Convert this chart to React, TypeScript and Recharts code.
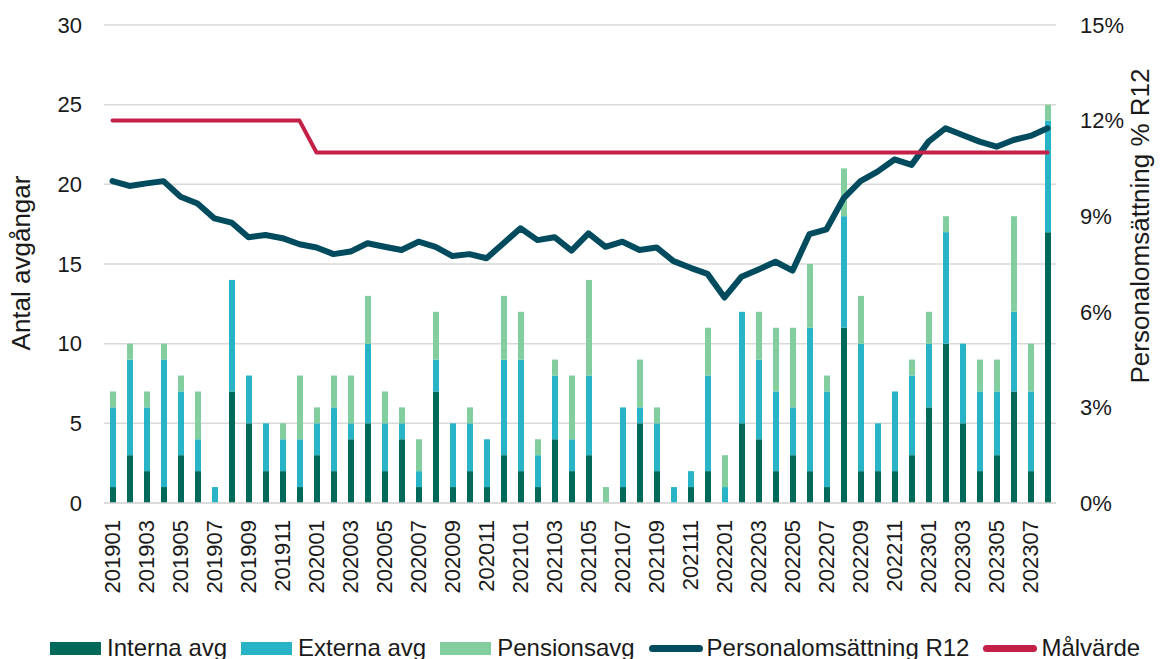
import React from "react";
import {
  ComposedChart,
  Bar,
  Line,
  XAxis,
  YAxis,
  CartesianGrid,
  Legend,
} from "recharts";

const months = [
  "201901", "201902", "201903", "201904", "201905", "201906", "201907", "201908", "201909", "201910", "201911", "201912",
  "202001", "202002", "202003", "202004", "202005", "202006", "202007", "202008", "202009", "202010", "202011", "202012",
  "202101", "202102", "202103", "202104", "202105", "202106", "202107", "202108", "202109", "202110", "202111", "202112",
  "202201", "202202", "202203", "202204", "202205", "202206", "202207", "202208", "202209", "202210", "202211", "202212",
  "202301", "202302", "202303", "202304", "202305", "202306", "202307", "202308",
];

const interna = [
  1, 3, 2, 1, 3, 2, 0, 7, 5, 2, 2, 1,
  3, 2, 4, 5, 2, 4, 1, 7, 1, 2, 1, 3,
  2, 1, 4, 2, 3, 0, 1, 5, 2, 0, 1, 2,
  0, 5, 4, 2, 3, 2, 1, 11, 2, 2, 2, 3,
  6, 10, 5, 2, 3, 7, 2, 17,
];

const externa = [
  5, 6, 4, 8, 4, 2, 1, 7, 3, 3, 2, 3,
  2, 4, 1, 5, 3, 1, 1, 2, 4, 3, 3, 6,
  7, 2, 4, 2, 5, 0, 5, 1, 3, 1, 1, 6,
  1, 7, 5, 5, 3, 9, 6, 7, 8, 3, 5, 5,
  4, 7, 5, 5, 4, 5, 5, 7,
];

const pension = [
  1, 1, 1, 1, 1, 3, 0, 0, 0, 0, 1, 4,
  1, 2, 3, 3, 2, 1, 2, 3, 0, 1, 0, 4,
  3, 1, 1, 4, 6, 1, 0, 3, 1, 0, 0, 3,
  2, 0, 3, 4, 5, 4, 1, 3, 3, 0, 0, 1,
  2, 1, 0, 2, 2, 6, 3, 1,
];

// Personalomsättning R12, procent
const r12 = [
  10.1, 9.95, 10.03, 10.1, 9.61, 9.4, 8.93, 8.8, 8.34, 8.41, 8.31, 8.12,
  8.02, 7.81, 7.89, 8.15, 8.04, 7.94, 8.2, 8.04, 7.75, 7.81, 7.68, 8.15,
  8.62, 8.25, 8.34, 7.92, 8.46, 8.04, 8.2, 7.94, 8.02, 7.59, 7.38, 7.19,
  6.45, 7.1, 7.33, 7.57, 7.29, 8.44, 8.59, 9.56, 10.1, 10.4, 10.78, 10.61,
  11.34, 11.76, 11.55, 11.34, 11.18, 11.39, 11.52, 11.76,
];

const malvarde = [
  12, 12, 12, 12, 12, 12, 12, 12, 12, 12, 12, 12,
  11, 11, 11, 11, 11, 11, 11, 11, 11, 11, 11, 11,
  11, 11, 11, 11, 11, 11, 11, 11, 11, 11, 11, 11,
  11, 11, 11, 11, 11, 11, 11, 11, 11, 11, 11, 11,
  11, 11, 11, 11, 11, 11, 11, 11,
];

const leftTicks = [0, 5, 10, 15, 20, 25, 30];
const rightTicks = [0, 3, 6, 9, 12, 15];

const data = months.map((m, i) => ({
  month: m,
  interna: interna[i],
  externa: externa[i],
  pension: pension[i],
  r12: r12[i],
  malvarde: malvarde[i],
}));

const FONT = '"Liberation Sans", Arial, sans-serif';
const TEXT = "#1a1a1a";

const C_INT = "#00695A";
const C_EXT = "#29B3C7";
const C_PEN = "#82CE9E";
const C_R12 = "#004B5E";
const C_MAL = "#C32148";

const XTick = ({ x, y, payload }: any) => (
  <text
    x={x}
    y={y}
    transform={`rotate(-90 ${x} ${y})`}
    textAnchor="end"
    dy="0.35em"
    fontSize={22}
    fontFamily={FONT}
    fill={TEXT}
  >
    {payload.value}
  </text>
);

const legendItems = [
  { name: "Interna avg", color: C_INT, kind: "bar" },
  { name: "Externa avg", color: C_EXT, kind: "bar" },
  { name: "Pensionsavg", color: C_PEN, kind: "bar" },
  { name: "Personalomsättning R12", color: C_R12, kind: "line" },
  { name: "Målvärde", color: C_MAL, kind: "line" },
];

const CustomLegend = () => (
  <div
    style={{
      display: "flex",
      alignItems: "center",
      height: 36,
      paddingLeft: 50,
      paddingTop: 14,
      boxSizing: "border-box",
      fontFamily: FONT,
      fontSize: 24,
      color: TEXT,
      lineHeight: "22px",
      whiteSpace: "nowrap",
    }}
  >
    {legendItems.map((it) => (
      <div key={it.name} style={{ display: "flex", alignItems: "center", marginRight: 14 }}>
        {it.kind === "bar" ? (
          <div style={{ width: 51, height: 13, background: it.color, marginRight: 6 }} />
        ) : (
          <div
            style={{ width: 54, height: 7, borderRadius: 4, background: it.color, marginRight: 4 }}
          />
        )}
        <span>{it.name}</span>
      </div>
    ))}
  </div>
);

export default function App() {
  return (
    <div style={{ position: "absolute", left: 0, top: 0, width: 1162, height: 659, background: "#fff" }}>
      <ComposedChart
        width={1162}
        height={659}
        data={data}
        margin={{ top: 25, right: 0, left: 0, bottom: 0 }}
        barCategoryGap={0}
      >
        <CartesianGrid yAxisId="left" vertical={false} stroke="#d9d9d9" strokeWidth={1.5} />
        <XAxis
          dataKey="month"
          interval={1}
          height={120}
          tick={<XTick />}
          tickLine={false}
          tickSize={15}
          axisLine={{ stroke: "#d9d9d9", strokeWidth: 1.5 }}
        />
        <YAxis
          yAxisId="left"
          domain={[0, 30]}
          ticks={leftTicks}
          width={104}
          axisLine={false}
          tickLine={false}
          tickSize={20}
          tick={{ fontSize: 22, fontFamily: FONT, fill: TEXT }}
          label={{
            content: () => (
              <text
                x={21}
                y={263}
                transform="rotate(-90 21 263)"
                textAnchor="middle"
                dy="0.35em"
                fontSize={26}
                fontFamily={FONT}
                fill={TEXT}
              >
                Antal avgångar
              </text>
            ),
          }}
        />
        <YAxis
          yAxisId="right"
          orientation="right"
          domain={[0, 15]}
          ticks={rightTicks}
          width={106}
          axisLine={false}
          tickLine={false}
          tickSize={22}
          tickFormatter={(v: number) => `${v}%`}
          tick={{ fontSize: 22, fontFamily: FONT, fill: TEXT }}
          label={{
            content: () => (
              <text
                x={1140}
                y={226}
                transform="rotate(-90 1140 226)"
                textAnchor="middle"
                dy="0.35em"
                fontSize={26}
                fontFamily={FONT}
                fill={TEXT}
              >
                Personalomsättning % R12
              </text>
            ),
          }}
        />
        <Legend verticalAlign="bottom" content={<CustomLegend />} />
        <Bar yAxisId="left" dataKey="interna" name="Interna avg" stackId="a" fill={C_INT} barSize={6} isAnimationActive={false} />
        <Bar yAxisId="left" dataKey="externa" name="Externa avg" stackId="a" fill={C_EXT} barSize={6} isAnimationActive={false} />
        <Bar yAxisId="left" dataKey="pension" name="Pensionsavg" stackId="a" fill={C_PEN} barSize={6} isAnimationActive={false} />
        <Line
          yAxisId="right"
          type="linear"
          dataKey="r12"
          name="Personalomsättning R12"
          stroke={C_R12}
          strokeWidth={6}
          strokeLinecap="round"
          strokeLinejoin="round"
          dot={false}
          activeDot={false}
          isAnimationActive={false}
        />
        <Line
          yAxisId="right"
          type="linear"
          dataKey="malvarde"
          name="Målvärde"
          stroke={C_MAL}
          strokeWidth={4}
          strokeLinecap="round"
          strokeLinejoin="round"
          dot={false}
          activeDot={false}
          isAnimationActive={false}
        />
      </ComposedChart>
    </div>
  );
}
